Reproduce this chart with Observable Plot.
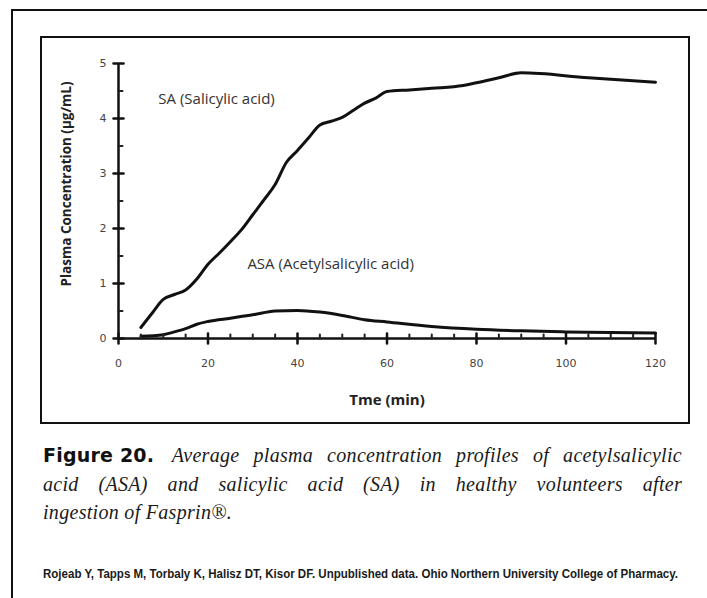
<!DOCTYPE html>
<html>
<head>
<meta charset="utf-8">
<script src="https://cdn.jsdelivr.net/npm/d3@7"></script>
<script src="https://cdn.jsdelivr.net/npm/@observablehq/plot@0.6"></script>
<style>
  html, body { margin: 0; padding: 0; background: #fff; }
  body { width: 707px; height: 598px; overflow: hidden; position: relative; }
  #outer { position: absolute; left: 11px; top: 9px; width: 760px; height: 640px;
           border-left: 2.5px solid #111; border-top: 2.5px solid #111; }
  #inner { position: absolute; left: 40px; top: 36px; width: 646px; height: 384px;
           border: 2px solid #111; }
  #chart { position: absolute; left: 0; top: 0; }
  #cap { position: absolute; left: 43px; top: 441px; width: 639px;
         font-family: "Liberation Serif", serif; font-style: italic; font-size: 20px;
         letter-spacing: 0.3px; line-height: 28.5px; color: #1a1a1a; }
  #cap .j { text-align: justify; text-align-last: justify; white-space: nowrap; }
  #cap .fig { display: inline-block; font-family: "DejaVu Sans", sans-serif; font-weight: bold; font-style: normal;
              font-size: 19px; letter-spacing: 0.2px; color: #111; margin-right: 4px; }
  #cite { position: absolute; left: 43px; top: 567px; white-space: nowrap;
          font-family: "Liberation Sans Narrow", "Liberation Sans", sans-serif; font-weight: bold;
          font-size: 12px; color: #1a1a1a; transform-origin: 0 0; }
</style>
</head>
<body>
<div id="outer"></div>
<div id="inner"></div>
<div id="chart"></div>
<div id="cap">
  <div class="j"><span class="fig">Figure 20.</span> Average plasma concentration profiles of acetylsalicylic</div>
  <div class="j">acid (ASA) and salicylic acid (SA) in healthy volunteers after</div>
  <div>ingestion of Fasprin®.</div>
</div>
<div id="cite">Rojeab Y, Tapps M, Torbaly K, Halisz DT, Kisor DF. Unpublished data. Ohio Northern University College of Pharmacy.</div>
<script>
// Salicylic acid (SA) profile
const saTime = [5, 7.5, 10, 12.5, 15, 17.5, 20, 22.5, 25, 27.5, 30, 32.5, 35, 37.5, 40, 42.5, 45, 47.5, 50, 52.5, 55, 57.5, 60, 65, 70, 77, 80, 85, 90, 105, 120];
const saConc = [0.2, 0.46, 0.71, 0.8, 0.88, 1.08, 1.35, 1.55, 1.76, 1.98, 2.25, 2.52, 2.8, 3.2, 3.42, 3.65, 3.88, 3.95, 4.02, 4.15, 4.28, 4.37, 4.49, 4.52, 4.55, 4.6, 4.65, 4.74, 4.83, 4.74, 4.66];
// Acetylsalicylic acid (ASA) profile
const asaTime = [5, 10, 12.5, 15, 17.5, 20, 25, 30, 35, 40, 45, 50, 55, 60, 70, 80, 90, 100, 120];
const asaConc = [0.04, 0.07, 0.12, 0.18, 0.26, 0.31, 0.37, 0.43, 0.5, 0.51, 0.48, 0.42, 0.34, 0.3, 0.22, 0.17, 0.14, 0.12, 0.1];
// Axis ticks
const xTicks = [0, 20, 40, 60, 80, 100, 120];
const xMinor = [5, 10, 15, 25, 30, 35, 45, 50, 55, 65, 70, 75, 85, 90, 95, 105, 110, 115];
const yTicks = [0, 1, 2, 3, 4, 5];
const yMinor = [0.5, 1.5, 2.5, 3.5, 4.5];
// Labels
const seriesLabels = [
  {name: "SA (Salicylic acid)", t: 8.9, c: 4.36},
  {name: "ASA (Acetylsalicylic acid)", t: 28.8, c: 1.36}
];
const xTitle = "Tme (min)";
const yTitle = "Plasma Concentration (µg/mL)";

const sa = saTime.map((t, i) => ({t, c: saConc[i]}));
const asa = asaTime.map((t, i) => ({t, c: asaConc[i]}));

const tickShape = {draw(ctx, l) { ctx.moveTo(0, 0); ctx.lineTo(0, -l); }};

const chart = Plot.plot({
  width: 707,
  height: 430,
  marginLeft: 118,
  marginRight: 52,
  marginTop: 63,
  marginBottom: 92,
  style: {background: "transparent", overflow: "visible"},
  x: {domain: [0, 120]},
  y: {domain: [0, 5]},
  marks: [
    Plot.axisX({ticks: xTicks, tickSize: 0, tickPadding: 21, label: null, fontSize: 11,
                fill: "#444", fontFamily: "DejaVu Sans", style: "letter-spacing:1.5px",
                tickFormat: d => String(d)}),
    Plot.axisY({ticks: yTicks, tickSize: 0, tickPadding: 12, label: null, fontSize: 11,
                fill: "#444", fontFamily: "DejaVu Sans", tickFormat: d => String(d)}),
    Plot.line(asa, {x: "t", y: "c", strokeWidth: 3, stroke: "#111", curve: "monotone-x"}),
    Plot.line(sa, {x: "t", y: "c", strokeWidth: 3, stroke: "#111", curve: "monotone-x"}),
    Plot.ruleX([0], {y1: 0, y2: 5, strokeWidth: 2.5, stroke: "#111"}),
    Plot.ruleY([0], {x1: 0, x2: 120, strokeWidth: 2.5, stroke: "#111"}),
    Plot.vector(yTicks, {x: 0, y: d => d, length: 10, rotate: 90, anchor: "middle", shape: tickShape, strokeWidth: 2.5, stroke: "#111"}),
    Plot.vector(yMinor, {x: 0, y: d => d, length: 4, rotate: 90, anchor: "start", shape: tickShape, strokeWidth: 2, stroke: "#222"}),
    Plot.vector(xTicks, {x: d => d, y: 0, length: 10, rotate: 0, anchor: "middle", shape: tickShape, strokeWidth: 2.5, stroke: "#111"}),
    Plot.vector(xMinor, {x: d => d, y: 0, length: 4, rotate: 0, anchor: "start", shape: tickShape, strokeWidth: 2, stroke: "#222"}),
    Plot.text(seriesLabels, {x: "t", y: "c", text: "name", textAnchor: "start", fontSize: 15,
                             fontFamily: "Open Sans", fill: "#333", style: "letter-spacing:0.9px"}),
    Plot.text([xTitle], {text: d => d, frameAnchor: "bottom", dy: 66, fontSize: 15, fontWeight: "bold",
                         fontFamily: "Open Sans", fill: "#222"}),
    Plot.text([yTitle], {text: d => d, frameAnchor: "left", textAnchor: "middle", dx: -52, dy: -17, rotate: -90,
                         fontSize: 13.5, fontWeight: "bold", fontFamily: "Open Sans", fill: "#222"})
  ]
});
document.getElementById("chart").appendChild(chart);

// fit the citation line to its printed width
const cite = document.getElementById("cite");
const w = cite.getBoundingClientRect().width;
cite.style.transform = `scaleX(${635 / w})`;
</script>
</body>
</html>
